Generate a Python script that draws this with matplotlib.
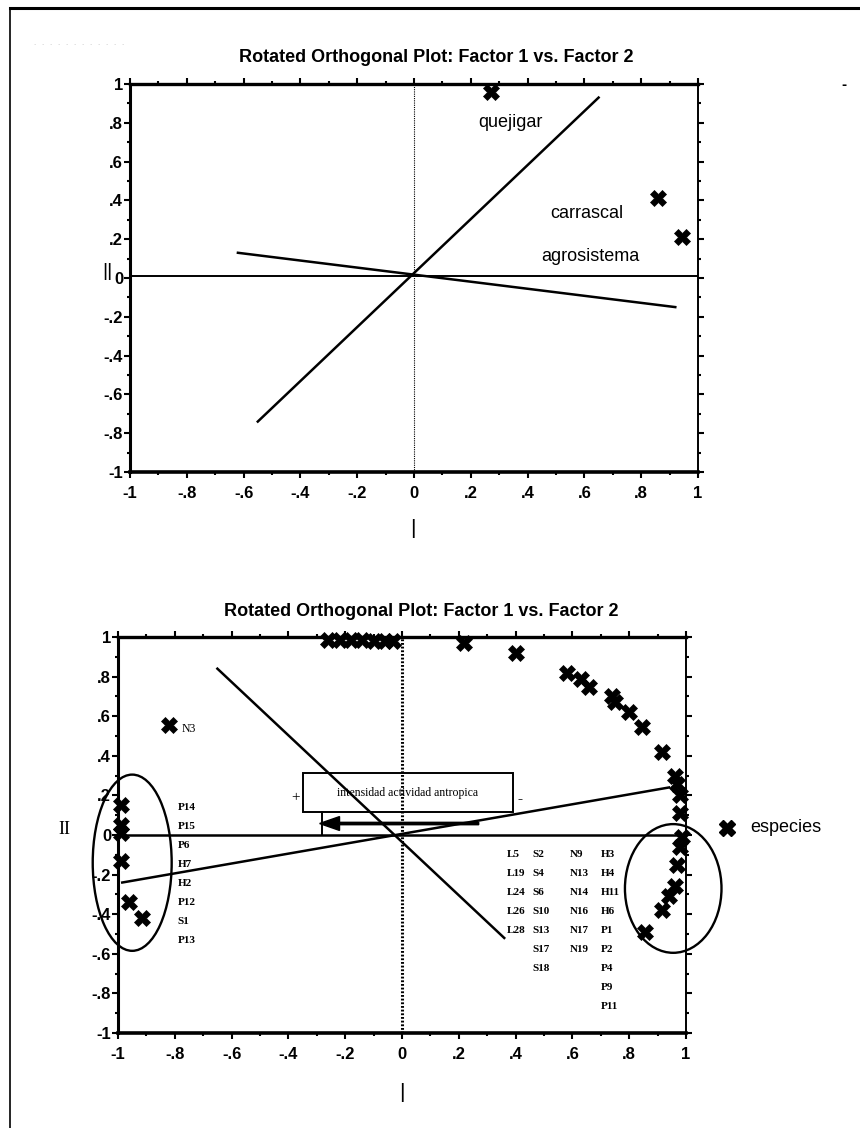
import numpy as np
import matplotlib
matplotlib.use("Agg")
from matplotlib import pyplot as plt
from matplotlib.patches import Ellipse, Rectangle, FancyArrow
from matplotlib.ticker import FuncFormatter, MultipleLocator

# ---- upper plot: habitats ----
hab_names = ["quejigar", "carrascal", "agrosistema"]
hab_x = [0.27, 0.86, 0.945]
hab_y = [0.96, 0.41, 0.21]
hab_lab_x = [0.34, 0.61, 0.62]
hab_lab_y = [0.80, 0.33, 0.11]
# factor axes drawn through the origin
top_line1 = [[-0.55, 0.65], [-0.74, 0.93]]
top_line2 = [[-0.62, 0.92], [0.13, -0.15]]

# ---- lower plot: species ----
sp_x = [-0.26, -0.22, -0.18, -0.14, -0.10, -0.06, -0.03, 0.22, 0.40,
        0.58, 0.63, 0.66, 0.74, 0.75, 0.80, 0.845, 0.915, 0.96, 0.97,
        0.98, 0.98, 0.985, 0.98, 0.97, 0.96, 0.94, 0.915, 0.855,
        -0.99, -0.99, -0.99, -0.99, -0.96, -0.915, -0.82]
sp_y = [0.985, 0.985, 0.985, 0.985, 0.98, 0.98, 0.98, 0.97, 0.92,
        0.82, 0.79, 0.75, 0.70, 0.67, 0.62, 0.545, 0.42, 0.30, 0.26,
        0.20, 0.11, -0.01, -0.06, -0.15, -0.26, -0.31, -0.38, -0.49,
        0.15, 0.05, 0.01, -0.13, -0.34, -0.42, 0.555]
left_group = ["P14", "P15", "P6", "H7", "H2", "P12", "S1", "P13"]
right_cols = [["L5", "L19", "L24", "L26", "L28"],
              ["S2", "S4", "S6", "S10", "S13", "S17", "S18"],
              ["N9", "N13", "N14", "N16", "N17", "N19"],
              ["H3", "H4", "H11", "H6", "P1", "P2", "P4", "P9", "P11"]]
bot_line1 = [[-0.65, 0.36], [0.84, -0.52]]
bot_line2 = [[-0.985, 0.94], [-0.24, 0.24]]

W, H = 860, 1128
fig = plt.figure(figsize=(W / 100, H / 100), dpi=100)
SANS = ["Liberation Sans", "DejaVu Sans"]
SERIF = ["Liberation Serif", "DejaVu Serif"]
TITLE = "Rotated Orthogonal Plot: Factor 1 vs. Factor 2"


def px(x, y):
    return x / W, 1 - y / H


def box(l, t, r, b):
    return [l / W, 1 - b / H, (r - l) / W, (b - t) / H]


def lab(v, pos):
    if abs(v) < 1e-9:
        return "0"
    s = "%.1f" % v
    if s in ("1.0", "-1.0"):
        return s[:-2]
    return s.replace("0.", ".")


def setup(ax):
    ax.set_xlim(-1, 1)
    ax.set_ylim(-1, 1)
    ax.xaxis.set_major_locator(MultipleLocator(0.2))
    ax.yaxis.set_major_locator(MultipleLocator(0.2))
    ax.xaxis.set_minor_locator(MultipleLocator(0.1))
    ax.yaxis.set_minor_locator(MultipleLocator(0.1))
    ax.xaxis.set_major_formatter(FuncFormatter(lab))
    ax.yaxis.set_major_formatter(FuncFormatter(lab))
    ax.tick_params(which="both", direction="out", top=True, right=True,
                   width=1.5, colors="black")
    ax.tick_params(which="major", length=4)
    ax.tick_params(which="minor", length=2)
    ax.tick_params(axis="x", pad=6)
    ax.tick_params(axis="y", pad=1)
    for t in ax.get_xticklabels() + ax.get_yticklabels():
        t.set_fontfamily(SANS)
        t.set_fontweight("bold")
        t.set_fontsize(12)
    for s, lw in zip(["bottom", "top", "left", "right"], [2.6, 2.4, 2.2, 1.4]):
        ax.spines[s].set_linewidth(lw)


# outer frame (left and top edges only)
fig.add_artist(plt.Line2D([10 / W, 10 / W], [0, 1 - 8 / H], color="black", lw=1.2))
fig.add_artist(plt.Line2D([10 / W, 1], [1 - 8 / H, 1 - 8 / H], color="black", lw=2.2))
for gx in range(34, 126, 8):
    fig.text(*px(gx, 43), ".", color="#bbbbbb", fontsize=5, ha="center", va="center")
fig.text(*px(844, 85), "-", fontsize=9, fontweight="bold", ha="center", va="center")

# ---------------- upper plot ----------------
ax1 = fig.add_axes(box(130, 84, 698, 472))
setup(ax1)
ax1.axhline(0.01, color="black", lw=1.4)
ax1.axvline(0, color="black", lw=0.8, ls=(0, (1, 1)))
ax1.plot(*top_line1, color="black", lw=1.8)
ax1.plot(*top_line2, color="black", lw=1.8)
ax1.plot(hab_x, hab_y, "X", color="black", ms=11, mew=0.5, clip_on=False)
for n, x, y in zip(hab_names, hab_lab_x, hab_lab_y):
    ax1.text(x, y, n, fontsize=13, family=SANS, ha="center", va="center")
fig.text(*px(436, 57), TITLE, fontsize=13, fontweight="bold", family=SANS,
         ha="center", va="center")
fig.text(*px(413, 528), "|", fontsize=15, family=SANS, ha="center", va="center")
fig.text(*px(107, 272), "||", fontsize=14, family=SANS, ha="center", va="center")

# ---------------- lower plot ----------------
ax2 = fig.add_axes(box(118, 637, 686, 1033))
setup(ax2)
ax2.axhline(0.0, color="black", lw=1.8)
ax2.axvline(0, color="black", lw=2.2, ls=(0, (0.6, 0.6)))
ax2.plot(*bot_line1, color="black", lw=1.8)
ax2.plot(*bot_line2, color="black", lw=1.8)
ax2.plot(sp_x, sp_y, "X", color="black", ms=11, mew=0.5, clip_on=False)

ax2.add_patch(Ellipse((-0.95, -0.14), 0.278, 0.89, fill=False, lw=1.7, clip_on=False))
ax2.add_patch(Ellipse((0.955, -0.27), 0.34, 0.65, fill=False, lw=1.7, clip_on=False))

ax2.add_patch(Rectangle((-0.35, 0.116), 0.74, 0.195, fill=False, lw=1.4))
ax2.text(0.02, 0.213, "intensidad actividad antropica", fontsize=8.5,
         family=SERIF, ha="center", va="center")
ax2.text(-0.375, 0.19, "+", fontsize=11, family=SERIF, ha="center", va="center")
ax2.text(0.415, 0.18, "-", fontsize=11, family=SERIF, fontweight="bold",
         ha="center", va="center")
ax2.add_patch(FancyArrow(0.27, 0.058, -0.56, 0, width=0.012, head_width=0.07,
                         head_length=0.07, color="black", length_includes_head=True))
ax2.plot([-0.28, -0.28], [0.116, 0.0], color="black", lw=1.4)

ax2.text(-0.775, 0.535, "N3", fontsize=8.5, family=SERIF, va="center")
for i, s in enumerate(left_group):
    ax2.text(-0.79, 0.14 - 0.096 * i, s, fontsize=8, family=SERIF,
             fontweight="bold", va="center")
for cx, col in zip([0.37, 0.46, 0.59, 0.70], right_cols):
    for i, s in enumerate(col):
        ax2.text(cx, -0.10 - 0.096 * i, s, fontsize=8, family=SERIF,
                 fontweight="bold", va="center")

# legend entry to the right of the frame
ax2.plot([1.145], [0.035], "X", color="black", ms=12, clip_on=False)
fig.text(*px(750, 828), "especies", fontsize=13, family=SANS, va="center")

fig.text(*px(421, 612), TITLE, fontsize=13, fontweight="bold", family=SANS,
         ha="center", va="center")
fig.text(*px(402, 1092), "|", fontsize=15, family=SANS, ha="center", va="center")
fig.text(*px(64, 830), "II", fontsize=13, family=SERIF, ha="center", va="center")

fig.savefig("out.png", dpi=100, facecolor="white")
